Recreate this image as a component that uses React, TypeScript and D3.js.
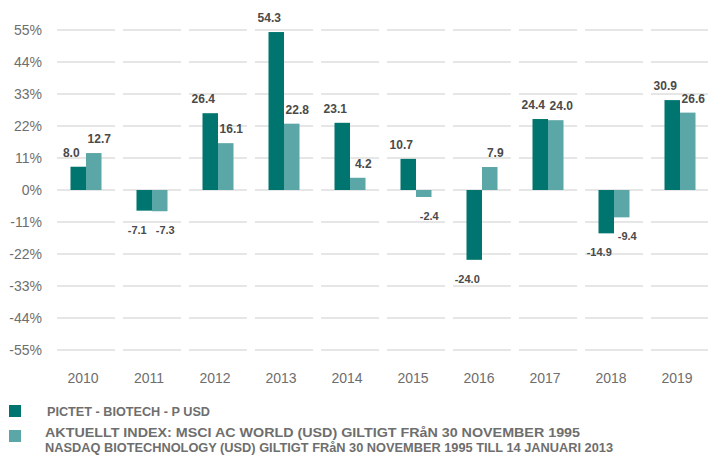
import React from "react";
import * as d3 from "d3";

const years = ["2010", "2011", "2012", "2013", "2014", "2015", "2016", "2017", "2018", "2019"];
const fundValues = [8.0, -7.1, 26.4, 54.3, 23.1, 10.7, -24.0, 24.4, -14.9, 30.9];
const indexValues = [12.7, -7.3, 16.1, 22.8, 4.2, -2.4, 7.9, 24.0, -9.4, 26.6];
const yTicks = [55, 44, 33, 22, 11, 0, -11, -22, -33, -44, -55];
const seriesNames = ["fund", "index"];
const legendFund = "PICTET - BIOTECH - P USD";
const legendIndex1 = "AKTUELLT INDEX: MSCI AC WORLD (USD) GILTIGT FRåN 30 NOVEMBER 1995";
const legendIndex2 = "NASDAQ BIOTECHNOLOGY (USD) GILTIGT FRåN 30 NOVEMBER 1995 TILL 14 JANUARI 2013";

const DARK = "#00756f";
const LIGHT = "#5ba6a7";
const GRID = "#e6e6e6";
const AXIS_TEXT = "#6e6e6e";
const LABEL_TEXT = "#4a4a4a";

export default function App() {
  const W = 708, H = 459;
  const x = d3.scaleBand<string>().domain(years).range([53, 713]).paddingInner(0);
  const y = d3.scaleLinear().domain([-55, 55]).range([350, 30]);
  const barW = 15.5;
  const x1 = d3.scaleBand<string>().domain(seriesNames).range([-barW, barW]);
  const series = [fundValues, indexValues];
  const colors = [DARK, LIGHT];
  const labelOffset = [-7, 5.5];
  const font = "'Liberation Sans', Arial, sans-serif";
  const narrow = "'Liberation Sans Narrow', 'Liberation Sans', Arial, sans-serif";

  return (
    <div style={{ position: "fixed", left: 0, top: 0 }}>
      <svg width={W} height={H} style={{ display: "block" }}>
        <rect width={W} height={H} fill="#fff" />
        {/* gridlines */}
        {yTicks.map((t) => (
          <g key={"g" + t}>
            {years.map((yr) => (
              <line
                key={yr}
                x1={(x(yr) as number) + 4}
                x2={(x(yr) as number) + x.bandwidth() - 4}
                y1={y(t)}
                y2={y(t)}
                stroke={GRID}
                strokeWidth={2}
              />
            ))}
            <text
              x={42}
              y={y(t) + 5}
              textAnchor="end"
              fontFamily={font}
              fontSize={14}
              fill={AXIS_TEXT}
            >
              {t + "%"}
            </text>
          </g>
        ))}
        {/* bars */}
        {years.map((yr, i) => {
          const cx = (x(yr) as number) + x.bandwidth() / 2;
          return (
            <g key={yr}>
              {series.map((vals, s) => {
                const v = vals[i];
                const bx = cx + (x1(seriesNames[s]) as number);
                const y0 = y(0);
                const yv = y(v);
                return (
                  <rect
                    key={s}
                    x={bx}
                    width={x1.bandwidth()}
                    y={Math.min(y0, yv)}
                    height={Math.abs(yv - y0)}
                    fill={colors[s]}
                  />
                );
              })}
              {series.map((vals, s) => {
                const v = vals[i];
                const bc = cx + (x1(seriesNames[s]) as number) + x1.bandwidth() / 2;
                const pos = v >= 0;
                return (
                  <text
                    key={"l" + s}
                    x={bc + labelOffset[s]}
                    y={pos ? y(v) - 10 : y(v) + 23}
                    textAnchor="middle"
                    fontFamily={font}
                    fontWeight="bold"
                    fontSize={pos ? 12 : 11}
                    fill={LABEL_TEXT}
                  >
                    {v.toFixed(1)}
                  </text>
                );
              })}
              <text
                x={cx - 3}
                y={383}
                textAnchor="middle"
                fontFamily={font}
                fontSize={14}
                fill={AXIS_TEXT}
              >
                {yr}
              </text>
            </g>
          );
        })}
        {/* legend */}
        <rect x={9} y={405} width={12} height={12} fill={DARK} />
        <rect x={9} y={430} width={12} height={12} fill={LIGHT} />
        <text x={47} y={416} fontFamily={narrow} fontWeight="bold" fontSize={12.5} fill={AXIS_TEXT}
          textLength={163} lengthAdjust="spacingAndGlyphs">
          {legendFund}
        </text>
        <text x={45} y={437} fontFamily={narrow} fontWeight="bold" fontSize={12.5} fill={AXIS_TEXT}
          textLength={535} lengthAdjust="spacingAndGlyphs">
          {legendIndex1}
        </text>
        <text x={45} y={452} fontFamily={narrow} fontWeight="bold" fontSize={12.5} fill={AXIS_TEXT}
          textLength={568} lengthAdjust="spacingAndGlyphs">
          {legendIndex2}
        </text>
      </svg>
    </div>
  );
}
